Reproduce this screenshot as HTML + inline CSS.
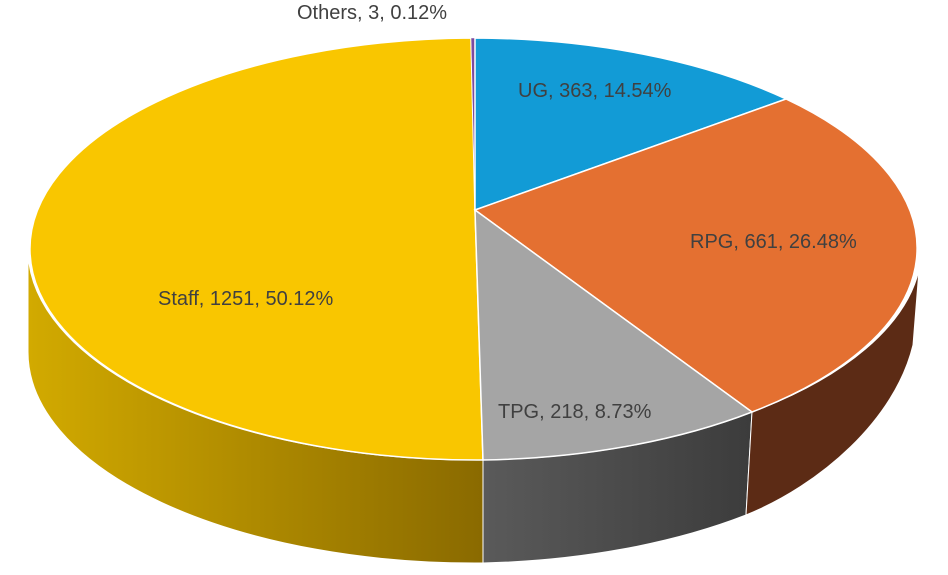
<!DOCTYPE html>
<html><head><meta charset="utf-8"><style>
html,body{margin:0;padding:0;background:#fff;}
svg{display:block;}
text{font-family:"Liberation Sans",sans-serif;font-size:20px;fill:#404040;}
</style></head><body>
<svg width="948" height="575" viewBox="0 0 948 575">
<defs>
<linearGradient id="gs" x1="0" x2="1" y1="0" y2="0"><stop offset="0" stop-color="#d2aa00"/><stop offset="1" stop-color="#8a6a00"/></linearGradient>
<linearGradient id="gt" x1="0" x2="1" y1="0" y2="0"><stop offset="0" stop-color="#5a5a5a"/><stop offset="1" stop-color="#3c3c3c"/></linearGradient>
</defs>
<!-- sides -->
<path d="M28,249 A447,211 0 0 0 483,460 L483,563 A447,211 0 0 1 28,352 Z" fill="url(#gs)" stroke="#fff" stroke-width="1"/>
<path d="M483,460 A447,211 0 0 0 752,412 L746,515 A447,211 0 0 1 483,563 Z" fill="url(#gt)" stroke="#fff" stroke-width="1"/>
<path d="M752,412 A447,211 0 0 0 919,270 L913,345 C895,420 820,485 746,515 Z" fill="#5c2b15" stroke="#fff" stroke-width="1"/>
<!-- top -->
<path d="M475,210 L483,460 A447,211 0 1 1 471,38 Z" fill="#f9c600" stroke="#fff" stroke-width="1.5"/>
<path d="M475,210 L471,38 A447,211 0 0 1 475,38 Z" fill="#7b4aa0" stroke="#fff" stroke-width="0.5"/>
<path d="M475,210 L475,38 A447,211 0 0 1 786,99 Z" fill="#129bd6" stroke="#fff" stroke-width="1.5"/>
<path d="M475,210 L786,99 A447,211 0 0 1 752,412 Z" fill="#e47031" stroke="#fff" stroke-width="1.5"/>
<path d="M475,210 L752,412 A447,211 0 0 1 483,460 Z" fill="#a5a5a5" stroke="#fff" stroke-width="1.5"/>
<text x="297" y="19">Others, 3, 0.12%</text>
<text x="518" y="97">UG, 363, 14.54%</text>
<text x="690" y="248">RPG, 661, 26.48%</text>
<text x="158" y="305">Staff, 1251, 50.12%</text>
<text x="498" y="418">TPG, 218, 8.73%</text>
</svg>
</body></html>
